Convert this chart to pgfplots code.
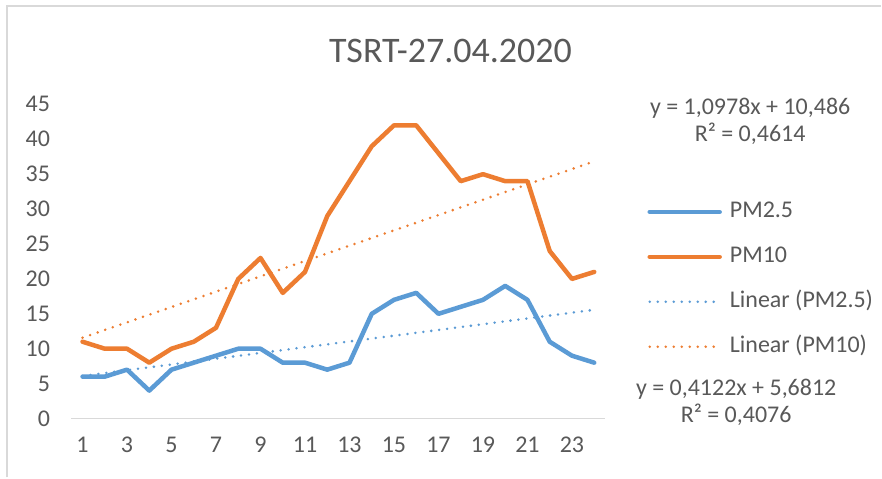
\documentclass[border=0pt]{standalone}
\usepackage{pgfplots}
\pgfplotsset{compat=1.18}
\usepackage{fontspec}
\setmainfont{Carlito}
\definecolor{pmblue}{RGB}{91,155,213}
\definecolor{pmorange}{RGB}{237,125,49}
\definecolor{txtgray}{RGB}{89,89,89}
\definecolor{axgray}{RGB}{217,217,217}
\begin{document}
\begin{tikzpicture}
\path[fill=white] (0pt,0pt) rectangle (882pt,478pt);
\draw[axgray, line width=2pt] (7pt,0pt) -- (7pt,472pt) -- (882pt,472pt);
\begin{axis}[
  at={(71.5pt,59pt)}, anchor=south west,
  scale only axis, width=534.5pt, height=314.5pt,
  xmin=0.5, xmax=24.5, ymin=0, ymax=45,
  axis x line*=bottom, axis y line*=left,
  x axis line style={draw=axgray, line width=1.5pt},
  y axis line style={draw=none},
  major tick length=0pt, tick style={draw=none},
  xtick={1,3,...,23}, ytick={0,5,...,45},
  /pgf/number format/assume math mode=true,
  ticklabel style={font=\fontsize{24}{28}\selectfont, text=txtgray},
  xticklabel style={yshift=-15pt},
  yticklabel style={xshift=-18pt},
  clip=false,
  legend image code/.code={\draw[#1] (0pt,0pt) -- (70pt,0pt);},
  legend cell align=left,
  legend style={at={(1.0786,0.695)}, anchor=north west, draw=none, fill=none,
    font=\fontsize{24}{28}\selectfont, text=txtgray, row sep=22pt, column sep=8pt,
    inner sep=0pt, nodes={inner sep=0pt, text height=17pt, text depth=6pt}},
]
\addplot[pmblue, line width=4.5pt, line join=round, line cap=round] coordinates {
(1,6) (2,6) (3,7) (4,4) (5,7) (6,8) (7,9) (8,10) (9,10) (10,8) (11,8) (12,7)
(13,8) (14,15) (15,17) (16,18) (17,15) (18,16) (19,17) (20,19) (21,17) (22,11) (23,9) (24,8)};
\addlegendentry{PM2.5}
\addplot[pmorange, line width=4.5pt, line join=round, line cap=round] coordinates {
(1,11) (2,10) (3,10) (4,8) (5,10) (6,11) (7,13) (8,20) (9,23) (10,18) (11,21) (12,29)
(13,34) (14,39) (15,42) (16,42) (17,38) (18,34) (19,35) (20,34) (21,34) (22,24) (23,20) (24,21)};
\addlegendentry{PM10}
\addplot[pmblue, line width=2.8pt, line cap=round, dash pattern=on 0pt off 8pt] coordinates {
(1,6.0934) (24,15.5740)};
\addlegendentry{Linear (PM2.5)}
\addplot[pmorange, line width=2.8pt, line cap=round, dash pattern=on 0pt off 8pt] coordinates {
(1,11.5838) (24,36.8332)};
\addlegendentry{Linear (PM10)}
\end{axis}
\node[anchor=base, text=txtgray, font=\fontsize{36}{40}\selectfont] at (451pt,415pt) {TSRT-27.04.2020};
\node[align=center, text=txtgray, font=\fontsize{24}{27}\selectfont] at (751pt,356.5pt) {y = 1,0978x + 10,486\\R² = 0,4614};
\node[align=center, text=txtgray, font=\fontsize{24}{27}\selectfont] at (737pt,75.5pt) {y = 0,4122x + 5,6812\\R² = 0,4076};
\end{tikzpicture}
\end{document}
